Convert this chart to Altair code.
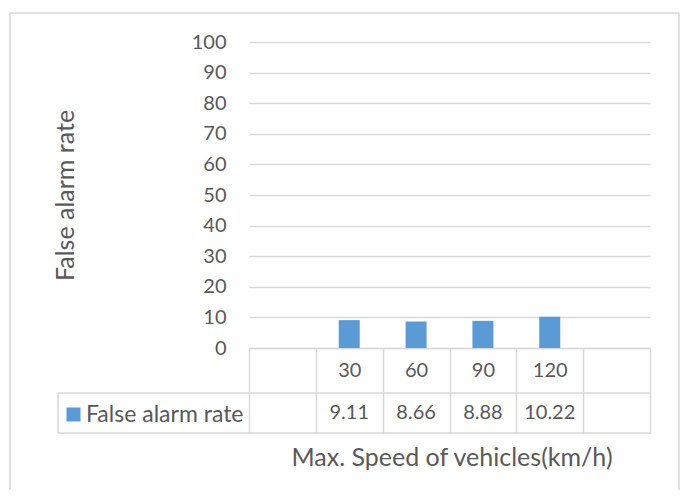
import altair as alt
import pandas as pd

# ---- data ----
categories = [" ", "30", "60", "90", "120", "  "]   # blank first/last slots as in the source
speeds = ["30", "60", "90", "120"]
false_alarm = [9.11, 8.66, 8.88, 10.22]
y_ticks = [0, 10, 20, 30, 40, 50, 60, 70, 80, 90, 100]
series_name = "False alarm rate"

FONT = "Lato"
TXT = "#595959"
GRID = "#d9d9d9"
BAR = "#5b9bd5"
FS = 20       # digits
FS_TITLE = 25
FS_LEG = 23

df = pd.DataFrame({
    "speed": speeds,
    "rate": false_alarm,
    "series": [series_name] * len(speeds),
    "label": [f"{v:.2f}" for v in false_alarm],
})
one = pd.DataFrame({"k": [0]})

W, H = 401, 306

x_enc = alt.X(
    "speed:N",
    sort=categories,
    scale=alt.Scale(domain=categories, paddingInner=0, paddingOuter=0),
    axis=alt.Axis(
        orient="bottom", domain=True, domainColor=GRID, domainWidth=1.5,
        ticks=True, tickBand="extent", tickSize=85, tickColor=GRID, tickWidth=1.5,
        labelAngle=0, labelFontSize=FS, labelColor=TXT, labelFont=FONT,
        labelBaseline="middle", labelPadding=-63, grid=False,
        title="Max. Speed of vehicles(km/h)", titleFont=FONT, titleFontSize=FS_TITLE,
        titleFontWeight="normal", titleColor=TXT, titleX=W / 2 + 2, titleY=109,
        titleAlign="center", titleBaseline="middle",
    ),
)

bars = alt.Chart(df).mark_bar(width=21).encode(
    x=x_enc,
    y=alt.Y(
        "rate:Q",
        scale=alt.Scale(domain=[0, 100], nice=False, zero=True),
        axis=alt.Axis(
            values=y_ticks, grid=True, gridColor=GRID, gridWidth=1.5,
            domain=False, ticks=False, labelFontSize=FS, labelColor=TXT,
            labelFont=FONT, labelPadding=23,
            title="False alarm rate", titleFont=FONT, titleFontSize=FS_TITLE,
            titleFontWeight="normal", titleColor=TXT, titleX=-184, titleY=H / 2,
            titleAlign="center", titleBaseline="middle", titleAngle=270,
        ),
    ),
    color=alt.Color(
        "series:N",
        scale=alt.Scale(range=[BAR]),
        legend=alt.Legend(
            orient="none", legendX=-187, legendY=361, title=None,
            symbolType="square", symbolSize=196, symbolStrokeWidth=0,
            labelFontSize=FS_LEG, labelColor=TXT, labelFont=FONT, padding=0,
            labelOffset=1,
        ),
    ),
)

values_text = alt.Chart(df).mark_text(
    fontSize=FS, font=FONT, color=TXT, baseline="middle"
).encode(
    x=alt.X("speed:N", sort=categories),
    y=alt.value(371),
    text="label:N",
)

rule_style = dict(color=GRID, strokeWidth=1.5)
mid_line = alt.Chart(one).mark_rule(**rule_style).encode(
    x=alt.value(-191), x2=alt.value(W), y=alt.value(351))
bot_line = alt.Chart(one).mark_rule(**rule_style).encode(
    x=alt.value(-191), x2=alt.value(W), y=alt.value(391))
left_line = alt.Chart(one).mark_rule(**rule_style).encode(
    x=alt.value(-191), y=alt.value(351), y2=alt.value(391))

frame = alt.Chart(one).mark_rect(
    fillOpacity=0, stroke=GRID, strokeWidth=1.5
).encode(
    x=alt.value(-239), x2=alt.value(430), y=alt.value(-29), y2=alt.value(520))

chart = alt.layer(
    frame, bars, values_text, mid_line, bot_line, left_line
).properties(
    width=W, height=H,
    autosize=alt.AutoSizeParams(type="none"),
    padding={"left": 241, "top": 34, "right": 30, "bottom": 142},
).configure_view(stroke=None)

chart.save("out.html", embed_options={"renderer": "svg", "actions": False})
